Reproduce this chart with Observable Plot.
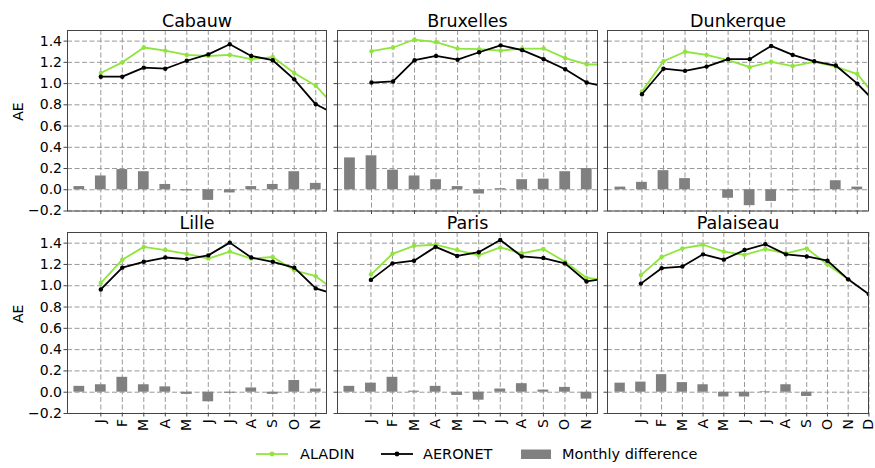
<!DOCTYPE html>
<html>
<head>
<meta charset="utf-8">
<script src="https://cdn.jsdelivr.net/npm/d3@7"></script>
<script src="https://cdn.jsdelivr.net/npm/@observablehq/plot@0.6"></script>
<style>
  body { margin: 0; background: #fff; font-family: "DejaVu Sans", sans-serif; }
  #chart { position: relative; width: 875px; height: 468px; overflow: hidden; background: #fff; }
  #chart > div, #chart > svg { position: absolute; }
</style>
</head>
<body>
<div id="chart"></div>
<script>
// ---------- data ----------
const months = ["J", "F", "M", "A", "M", "J", "J", "A", "S", "O", "N", "D"];
const sites = ["Cabauw", "Bruxelles", "Dunkerque", "Lille", "Paris", "Palaiseau"];
const yTicks = [-0.2, 0.0, 0.2, 0.4, 0.6, 0.8, 1.0, 1.2, 1.4];

// ALADIN monthly AE (Jan..Dec), one list per site
const aladinCabauw    = [1.10, 1.20, 1.34, 1.31, 1.27, 1.26, 1.27, 1.23, 1.25, 1.10, 0.98, 0.76];
const aladinBruxelles = [1.305, 1.34, 1.415, 1.39, 1.33, 1.325, 1.31, 1.33, 1.33, 1.24, 1.18, 1.18];
const aladinDunkerque = [0.925, 1.21, 1.30, 1.27, 1.22, 1.155, 1.205, 1.165, 1.205, 1.16, 1.09, 0.84];
const aladinLille     = [1.025, 1.245, 1.365, 1.335, 1.30, 1.255, 1.32, 1.255, 1.27, 1.145, 1.09, 0.94];
const aladinParis     = [1.105, 1.30, 1.375, 1.385, 1.335, 1.285, 1.36, 1.305, 1.345, 1.225, 1.075, 1.05];
const aladinPalaiseau = [1.10, 1.27, 1.35, 1.385, 1.32, 1.29, 1.345, 1.305, 1.35, 1.20, 1.06, null];

// AERONET monthly AE (Jan..Dec)
const aeronetCabauw    = [1.065, 1.065, 1.15, 1.14, 1.215, 1.275, 1.37, 1.26, 1.22, 1.04, 0.805, 0.70];
const aeronetBruxelles = [1.01, 1.02, 1.22, 1.26, 1.225, 1.295, 1.36, 1.315, 1.23, 1.135, 1.01, 0.965];
const aeronetDunkerque = [0.90, 1.14, 1.12, 1.16, 1.23, 1.23, 1.355, 1.27, 1.21, 1.17, 1.00, 0.79];
const aeronetLille     = [0.965, 1.17, 1.225, 1.265, 1.25, 1.285, 1.405, 1.265, 1.225, 1.17, 0.975, 0.915];
const aeronetParis     = [1.055, 1.21, 1.235, 1.365, 1.28, 1.315, 1.43, 1.275, 1.26, 1.21, 1.04, 1.07];
const aeronetPalaiseau = [1.02, 1.165, 1.18, 1.295, 1.245, 1.335, 1.39, 1.295, 1.275, 1.235, 1.06, 0.92];

// Monthly difference (ALADIN - AERONET), Jan..Dec
const diffCabauw    = [0.03, 0.13, 0.19, 0.17, 0.05, -0.01, -0.10, -0.03, 0.03, 0.05, 0.17, 0.06];
const diffBruxelles = [0.30, 0.32, 0.185, 0.13, 0.095, 0.03, -0.04, 0.01, 0.095, 0.10, 0.17, 0.20];
const diffDunkerque = [0.025, 0.07, 0.18, 0.105, 0.0, -0.08, -0.15, -0.11, -0.01, -0.01, 0.085, 0.025];
const diffLille     = [0.055, 0.07, 0.14, 0.07, 0.05, -0.02, -0.09, -0.01, 0.04, -0.02, 0.11, 0.03];
const diffParis     = [0.055, 0.085, 0.14, 0.01, 0.055, -0.03, -0.075, 0.03, 0.08, 0.02, 0.045, -0.065];
const diffPalaiseau = [0.085, 0.095, 0.165, 0.09, 0.07, -0.045, -0.045, 0.005, 0.07, -0.04, 0.0, null];

const legendLabels = ["ALADIN", "AERONET", "Monthly difference"];

// ---------- build ----------
const aladin = [aladinCabauw, aladinBruxelles, aladinDunkerque, aladinLille, aladinParis, aladinPalaiseau];
const aeronet = [aeronetCabauw, aeronetBruxelles, aeronetDunkerque, aeronetLille, aeronetParis, aeronetPalaiseau];
const diff = [diffCabauw, diffBruxelles, diffDunkerque, diffLille, diffParis, diffPalaiseau];

const GREEN = "#8fe53c";
const BAR = "#808080";
const GRID = "#999999";
const SPINE = "#444444";
const fontFamily = '"DejaVu Sans", sans-serif';

const colLeft = [67, 337, 607], colRight = [326, 597, 868];
const rowTop = [29.5, 231.5], rowBottom = [210, 412.5];
const xDomains = [[-0.55, 11.5], [-0.58, 11.5], [-0.6, 11.52], [-0.55, 11.5], [-0.55, 11.51], [-0.61, 11.98]];

const chart = document.getElementById("chart");

sites.forEach((name, i) => {
  const col = i % 3, row = Math.floor(i / 3);
  const fl = colLeft[col], fr = colRight[col], ft = rowTop[row], fb = rowBottom[row];
  const ml = col === 0 ? 67 : 6, mr = 6, mt = 28, mb = row === 1 ? 30 : 8;
  const nTicks = i === 5 ? 12 : 11;
  const xt = d3.range(1, nTicks + 1);
  const al = aladin[i].map((v, k) => ({m: k + 1, v}));
  const ae = aeronet[i].map((v, k) => ({m: k + 1, v}));
  const bars = diff[i].map((v, k) => ({m: k, v})).filter(d => d.v != null);

  const marks = [
    Plot.gridY(yTicks, {stroke: GRID, strokeOpacity: 1, strokeWidth: 1, strokeDasharray: "5,2.5"}),
    Plot.gridX(xt, {stroke: GRID, strokeOpacity: 1, strokeWidth: 1, strokeDasharray: "5,2.5"}),
    Plot.rect(bars, {x1: d => d.m - 0.25, x2: d => d.m + 0.25, y1: 0, y2: "v", fill: BAR, clip: true}),
    Plot.line(al, {x: "m", y: "v", stroke: GREEN, strokeWidth: 1.8, clip: true}),
    Plot.dot(al.filter(d => d.v != null), {x: "m", y: "v", r: 2.2, fill: GREEN, clip: true}),
    Plot.line(ae, {x: "m", y: "v", stroke: "#000", strokeWidth: 1.8, clip: true}),
    Plot.dot(ae, {x: "m", y: "v", r: 2.2, fill: "#000", clip: true}),
    Plot.frame({stroke: SPINE, strokeWidth: 1}),
    Plot.axisY(yTicks, {
      tickSize: 3.5, tickPadding: 2, stroke: SPINE, fontSize: 14,
      fill: col === 0 ? "#000" : "none",
      tickFormat: d3.format(".1f")
    }),
    Plot.axisX(xt, {
      tickSize: 3.5, tickPadding: 2, stroke: SPINE, fontSize: 14,
      fill: row === 1 ? "#000" : "none",
      tickRotate: row === 1 ? -90 : 0,
      tickFormat: d => months[d - 1]
    }),
    Plot.text([name], {text: d => d, frameAnchor: "top", dy: -4, lineAnchor: "bottom", fontSize: 17.5, fill: "#000"})
  ];
  if (col === 0) {
    marks.push(Plot.text(["AE"], {text: d => d, frameAnchor: "left", dx: -49, rotate: -90, fontSize: 14, fill: "#000"}));
  }

  const plot = Plot.plot({
    width: fr - fl + ml + mr,
    height: fb - ft + mt + mb,
    marginLeft: ml, marginRight: mr, marginTop: mt, marginBottom: mb,
    style: {fontFamily, fontSize: "14px", background: "transparent", overflow: "visible"},
    x: {domain: xDomains[i], label: null},
    y: {domain: [-0.2, 1.5], label: null},
    marks
  });
  const wrap = document.createElement("div");
  wrap.style.left = (fl - ml) + "px";
  wrap.style.top = (ft - mt) + "px";
  wrap.appendChild(plot);
  chart.appendChild(wrap);
});

// ---------- legend ----------
const leg = d3.select(chart).append("svg")
  .attr("width", 875).attr("height", 38)
  .style("left", "0px").style("top", "430px")
  .style("font-family", fontFamily).style("font-size", "14.5px");
const legX = [256, 381, 521];
const textX = [300, 423, 562];
legendLabels.forEach((lab, k) => {
  if (k < 2) {
    const c = k === 0 ? GREEN : "#000";
    leg.append("line").attr("x1", legX[k]).attr("x2", legX[k] + 32).attr("y1", 24).attr("y2", 24)
      .attr("stroke", c).attr("stroke-width", 1.8);
    leg.append("circle").attr("cx", legX[k] + 16).attr("cy", 24).attr("r", 2.4).attr("fill", c);
  } else {
    leg.append("rect").attr("x", legX[k]).attr("y", 19.5).attr("width", 30).attr("height", 9.5).attr("fill", BAR);
  }
  leg.append("text").attr("x", textX[k]).attr("y", 29).attr("fill", "#000").text(lab);
});
</script>
</body>
</html>
